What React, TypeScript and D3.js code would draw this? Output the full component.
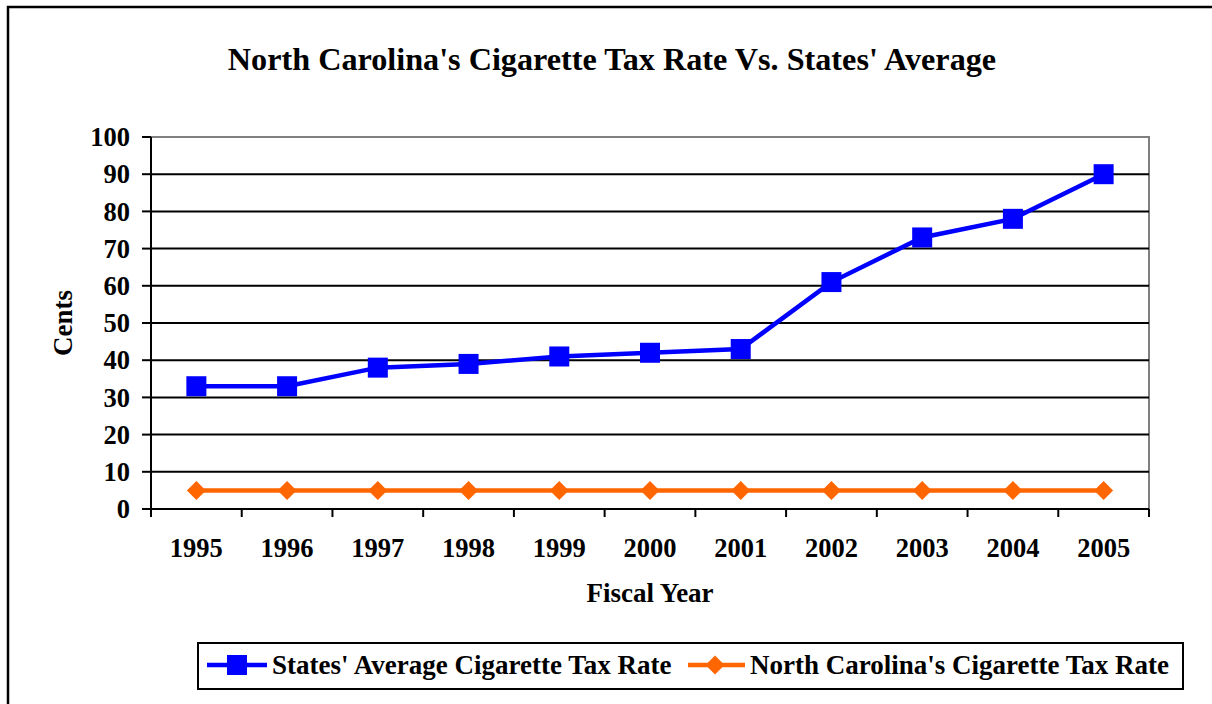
import React from "react";
import * as d3 from "d3";

const years = ["1995","1996","1997","1998","1999","2000","2001","2002","2003","2004","2005"];
const statesAvg = [33, 33, 38, 39, 41, 42, 43, 61, 73, 78, 90];
const ncRate = [5, 5, 5, 5, 5, 5, 5, 5, 5, 5, 5];
const yTicks = [0, 10, 20, 30, 40, 50, 60, 70, 80, 90, 100];

const W = 1212, H = 704;
const left = 151, right = 1149, top = 137, bottom = 509;
const font = "'Liberation Serif', 'Times New Roman', serif";

export default function App() {
  const x = d3.scaleBand<string>().domain(years).range([left, right]);
  const y = d3.scaleLinear().domain([0, 100]).range([bottom, top]);
  const cx = (d: string) => (x(d) as number) + x.bandwidth() / 2;
  const line = d3.line<number>().x((_, i) => cx(years[i])).y((v) => y(v));
  const boundaries = years.map((d) => x(d) as number).concat([right]);
  return (
    <div style={{ position: "absolute", left: 0, top: 0 }}>
      <svg width={W} height={H} style={{ display: "block" }}>
        <rect x={0} y={0} width={W} height={H} fill="#fff" />
        <rect x={8} y={7} width={W + 20} height={H + 20} fill="none" stroke="#000" strokeWidth={2.5} />
        <text x={612} y={70} textAnchor="middle" fontFamily={font} fontWeight="bold" fontSize={32.2}>
          North Carolina's Cigarette Tax Rate Vs. States' Average
        </text>
        {/* plot frame */}
        <rect x={left} y={top} width={right - left} height={bottom - top} fill="#fff" stroke="#808080" strokeWidth={2} />
        {yTicks.filter((t) => t > 0 && t < 100).map((t) => (
          <line key={t} x1={left} x2={right} y1={y(t)} y2={y(t)} stroke="#000" strokeWidth={2} />
        ))}
        {/* y axis */}
        <line x1={left} x2={left} y1={top} y2={bottom} stroke="#000" strokeWidth={2} />
        {yTicks.map((t) => (
          <g key={t}>
            <line x1={left - 9} x2={left} y1={y(t)} y2={y(t)} stroke="#000" strokeWidth={2} />
            <text x={130} y={y(t)} dy="0.35em" textAnchor="end" fontFamily={font} fontWeight="bold" fontSize={26.5}>
              {t}
            </text>
          </g>
        ))}
        {/* x axis */}
        <line x1={left} x2={right} y1={bottom} y2={bottom} stroke="#000" strokeWidth={2} />
        {boundaries.map((b, i) => (
          <line key={i} x1={b} x2={b} y1={bottom} y2={bottom + 8} stroke="#000" strokeWidth={2} />
        ))}
        {years.map((d) => (
          <text key={d} x={cx(d)} y={557} textAnchor="middle" fontFamily={font} fontWeight="bold" fontSize={26.5}>
            {d}
          </text>
        ))}
        <text x={650} y={602} textAnchor="middle" fontFamily={font} fontWeight="bold" fontSize={27}>
          Fiscal Year
        </text>
        <text transform={`translate(72,${(top + bottom) / 2}) rotate(-90)`} textAnchor="middle" fontFamily={font} fontWeight="bold" fontSize={27}>
          Cents
        </text>
        {/* series */}
        <path d={line(ncRate) as string} fill="none" stroke="#FF6600" strokeWidth={4.5} />
        {ncRate.map((v, i) => {
          const px = cx(years[i]), py = y(v);
          return <path key={i} d={`M${px},${py - 9.5}L${px + 9.5},${py}L${px},${py + 9.5}L${px - 9.5},${py}Z`} fill="#FF6600" />;
        })}
        <path d={line(statesAvg) as string} fill="none" stroke="#0000FF" strokeWidth={4.5} />
        {statesAvg.map((v, i) => (
          <rect key={i} x={cx(years[i]) - 10} y={y(v) - 10} width={20} height={20} fill="#0000FF" />
        ))}
        {/* legend */}
        <rect x={198} y={643} width={985} height={46} fill="#fff" stroke="#000" strokeWidth={2} />
        <line x1={207} x2={267} y1={665} y2={665} stroke="#0000FF" strokeWidth={4.5} />
        <rect x={227} y={655} width={20} height={20} fill="#0000FF" />
        <text x={272} y={674} fontFamily={font} fontWeight="bold" fontSize={27}>
          States' Average Cigarette Tax Rate
        </text>
        <line x1={688} x2={745} y1={665} y2={665} stroke="#FF6600" strokeWidth={4.5} />
        <path d={`M715,655.5L724.5,665L715,674.5L705.5,665Z`} fill="#FF6600" />
        <text x={750} y={674} fontFamily={font} fontWeight="bold" fontSize={27}>
          North Carolina's Cigarette Tax Rate
        </text>
      </svg>
    </div>
  );
}
